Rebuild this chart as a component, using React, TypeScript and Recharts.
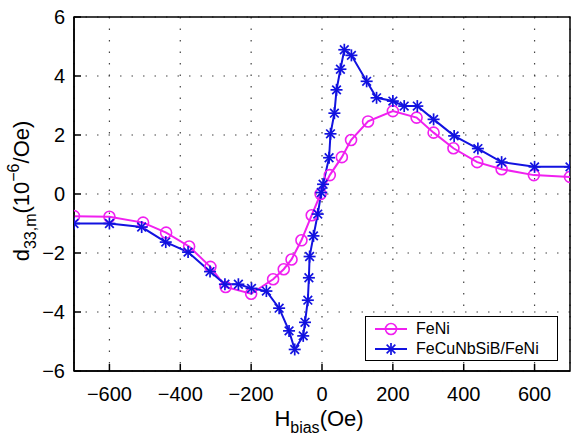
import {
  LineChart,
  Line,
  XAxis,
  YAxis,
  CartesianGrid,
  ReferenceArea,
} from 'recharts';

// H_bias (Oe) and d33,m (10^-6/Oe)
const hFeNi = [
  -700, -600, -505, -440, -375, -315, -272, -200, -138, -108, -86, -58, -29, -4,
  22, 56, 82, 130, 200, 267, 315, 371, 438, 507, 598, 700,
];
const dFeNi = [
  -0.75, -0.77, -0.97, -1.31, -1.78, -2.47, -3.15, -3.38, -2.89, -2.55, -2.22,
  -1.57, -0.72, 0, 0.64, 1.25, 1.83, 2.46, 2.81, 2.59, 2.08, 1.55, 1.08, 0.84,
  0.64, 0.58,
];

const hBi = [
  -700, -600, -509, -441, -378, -316, -274, -236, -199, -157, -121, -93, -77,
  -53, -48, -40, -37, -35, -24, -12, -2, 3, 20, 24, 35, 41, 52, 63, 83, 126,
  154, 200, 232, 269, 315, 373, 440, 507, 600, 700,
];
const dBi = [
  -1.0, -1.0, -1.12, -1.63, -1.97, -2.63, -3.06, -3.06, -3.2, -3.29, -3.87,
  -4.64, -5.27, -4.81, -4.35, -3.6, -2.84, -2.12, -1.42, -0.68, 0.05, 0.33,
  1.23, 2.04, 2.74, 3.53, 4.23, 4.89, 4.7, 3.82, 3.26, 3.15, 2.98, 2.98, 2.53,
  1.97, 1.54, 1.08, 0.92, 0.92,
];

const xTicks = [-600, -400, -200, 0, 200, 400, 600];
const yTicks = [-6, -4, -2, 0, 2, 4, 6];

const MAGENTA = '#f020f0';
const BLUE = '#1212e0';
const FONT = '"Liberation Sans", Arial, Helvetica, sans-serif';

const feNi = hFeNi.map((x, i) => ({ x, y: dFeNi[i] }));
const bilayer = hBi.map((x, i) => ({ x, y: dBi[i] }));

const Ring = ({ cx, cy }: { cx: number; cy: number }) => (
  <circle cx={cx} cy={cy} r={5.5} fill="none" stroke={MAGENTA} strokeWidth={1.6} />
);

const Star = ({ cx, cy }: { cx: number; cy: number }) => {
  const r = 6;
  const d = r * 0.72;
  return (
    <g stroke={BLUE} strokeWidth={1.7}>
      <line x1={cx - r} y1={cy} x2={cx + r} y2={cy} />
      <line x1={cx} y1={cy - r} x2={cx} y2={cy + r} />
      <line x1={cx - d} y1={cy - d} x2={cx + d} y2={cy + d} />
      <line x1={cx - d} y1={cy + d} x2={cx + d} y2={cy - d} />
    </g>
  );
};

const XLabel = (props: any) => {
  const vb = props.viewBox;
  return (
    <text
      x={vb.x + vb.width / 2 - 3}
      y={vb.y + 55}
      textAnchor="middle"
      fontSize={22}
      fontFamily={FONT}
      fill="#000"
    >
      H
      <tspan dy={7} fontSize={16}>
        bias
      </tspan>
      <tspan dy={-7}>(Oe)</tspan>
    </text>
  );
};

const YLabel = (props: any) => {
  const vb = props.viewBox;
  const cy = vb.y + vb.height / 2 - 3;
  return (
    <text
      transform={`translate(29, ${cy}) rotate(-90)`}
      x={0}
      y={0}
      textAnchor="middle"
      fontSize={22}
      fontFamily={FONT}
      fill="#000"
    >
      d
      <tspan dy={7} fontSize={16}>
        33,m
      </tspan>
      <tspan dy={-7}>(10</tspan>
      <tspan dy={-10} fontSize={16}>
        −6
      </tspan>
      <tspan dy={10}>/Oe)</tspan>
    </text>
  );
};

const LegendBox = () => (
  <div
    style={{
      position: 'absolute',
      left: 365,
      top: 316,
      width: 191,
      height: 43,
      border: '1.5px solid #000',
      background: '#fff',
      fontFamily: FONT,
      fontSize: 16,
    }}
  >
    {[
      { name: 'FeNi', color: MAGENTA, mark: 'ring' },
      { name: 'FeCuNbSiB/FeNi', color: BLUE, mark: 'star' },
    ].map((item, i) => (
      <div
        key={item.name}
        style={{
          position: 'absolute',
          left: 8,
          top: 2 + i * 20,
          height: 20,
          display: 'flex',
          alignItems: 'center',
        }}
      >
        <svg width={34} height={20}>
          <line x1={1} y1={10} x2={33} y2={10} stroke={item.color} strokeWidth={2} />
          {item.mark == 'ring' ? <Ring cx={17} cy={10} /> : <Star cx={17} cy={10} />}
        </svg>
        <span style={{ marginLeft: 8 }}>{item.name}</span>
      </div>
    ))}
  </div>
);

const App = () => {
  return (
    <div style={{ position: 'absolute', left: 0, top: 0, width: 571, height: 437, background: '#fff' }}>
      <LineChart
        width={571}
        height={437}
        margin={{ top: 17, right: 1, bottom: 0, left: 0 }}
      >
        <CartesianGrid stroke="#444" strokeDasharray="1.5 10" strokeWidth={1.2} />
        <XAxis
          dataKey="x"
          type="number"
          domain={[-700, 700]}
          ticks={xTicks}
          allowDataOverflow
          height={66}
          tickSize={-7}
          tickMargin={23}
          tickFormatter={(v: number) => String(v).replace('-', '−')}
          tick={{ fill: '#000', fontSize: 20, fontFamily: FONT }}
          axisLine={{ stroke: '#000', strokeWidth: 1.5 }}
          tickLine={{ stroke: '#000', strokeWidth: 1.5 }}
          label={<XLabel />}
        />
        <XAxis
          xAxisId="top"
          orientation="top"
          dataKey="x"
          type="number"
          domain={[-700, 700]}
          ticks={xTicks}
          height={0}
          tickSize={-7}
          tick={false}
          axisLine={false}
          tickLine={{ stroke: '#000', strokeWidth: 1.5 }}
        />
        <YAxis
          type="number"
          domain={[-6, 6]}
          ticks={yTicks}
          width={74}
          tickSize={-7}
          tickMargin={16}
          tickFormatter={(v: number) => String(v).replace('-', '−')}
          tick={{ fill: '#000', fontSize: 20, fontFamily: FONT }}
          axisLine={{ stroke: '#000', strokeWidth: 1.5 }}
          tickLine={{ stroke: '#000', strokeWidth: 1.5 }}
          label={<YLabel />}
        />
        <YAxis
          yAxisId="right"
          orientation="right"
          type="number"
          domain={[-6, 6]}
          ticks={yTicks}
          width={0}
          tickSize={-7}
          tick={false}
          axisLine={false}
          tickLine={{ stroke: '#000', strokeWidth: 1.5 }}
        />
        <ReferenceArea
          x1={-700}
          x2={700}
          y1={-6}
          y2={6}
          fill="none"
          fillOpacity={0}
          stroke="#000"
          strokeWidth={1.5}
          ifOverflow="visible"
        />
        <Line
          data={feNi}
          dataKey="y"
          name="FeNi"
          stroke={MAGENTA}
          strokeWidth={2}
          isAnimationActive={false}
          dot={(p: any) => <Ring key={'r' + p.index} cx={p.cx} cy={p.cy} />}
        />
        <Line
          data={bilayer}
          dataKey="y"
          name="FeCuNbSiB/FeNi"
          stroke={BLUE}
          strokeWidth={2}
          isAnimationActive={false}
          dot={(p: any) => <Star key={'s' + p.index} cx={p.cx} cy={p.cy} />}
        />
      </LineChart>
      <LegendBox />
    </div>
  );
};

export default App;
